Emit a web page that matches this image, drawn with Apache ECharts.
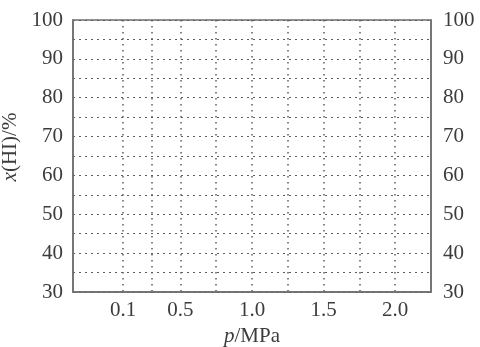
<!DOCTYPE html>
<html>
<head>
<meta charset="utf-8">
<script src="https://cdn.jsdelivr.net/npm/echarts@6/dist/echarts.min.js"></script>
<style>
  html, body { margin: 0; padding: 0; background: #fff; }
  #chart { width: 480px; height: 347px; }
</style>
</head>
<body>
<div id="chart"></div>
<script>
// pressure axis: grid lines and the labelled ticks
const xGridValues = [0.1, 0.3, 0.5, 0.75, 1.0, 1.25, 1.5, 1.75, 2.0]
const xLabelValues = [0.1, 0.5, 1.0, 1.5, 2.0]
const xRange = [-0.25, 2.25]
// x(HI) axis
const yRange = [30, 100]
const yGridStep = 5
const yLabelValues = [30, 40, 50, 60, 70, 80, 90, 100]

const font = 'Liberation Serif'
const fontSize = 21
const textColor = '#3c3c3c'
const frameColor = '#6e6e6e'

const chart = echarts.init(document.getElementById('chart'))

const yLabel = {
  customValues: yLabelValues,
  fontFamily: font,
  fontSize: fontSize,
  color: textColor,
}

chart.setOption({
  animation: false,
  grid: {
    left: 73,
    right: 49,
    top: 20,
    bottom: 55,
    outerBoundsMode: 'none',
    containLabel: false,
    show: true,
    borderColor: frameColor,
    borderWidth: 1.5,
  },
  xAxis: {
    type: 'value',
    min: xRange[0],
    max: xRange[1],
    name: '{i|p}/MPa',
    nameLocation: 'middle',
    nameGap: 33,
    nameTextStyle: {
      fontFamily: font,
      fontSize: fontSize,
      color: textColor,
      rich: {
        i: { fontFamily: font, fontSize: fontSize, fontStyle: 'italic', color: textColor },
      },
    },
    axisLine: { show: true, onZero: false, lineStyle: { color: frameColor, width: 1.5 } },
    axisTick: { show: false, customValues: xGridValues },
    axisLabel: {
      customValues: xLabelValues,
      formatter: (v) => v.toFixed(1),
      margin: 8,
      fontFamily: font,
      fontSize: fontSize,
      color: textColor,
    },
    splitLine: {
      show: true,
      lineStyle: { color: '#5e5e5e', width: 1.5, type: [1.5, 4.5] },
    },
  },
  yAxis: [
    {
      type: 'value',
      min: yRange[0],
      max: yRange[1],
      interval: yGridStep,
      name: '{i|x}(HI)/%',
      nameLocation: 'middle',
      nameGap: 47,
      nameTextStyle: {
        fontFamily: font,
        fontSize: fontSize,
        color: textColor,
        padding: [0, 0, 0, 18],
        rich: {
          i: { fontFamily: font, fontSize: fontSize, fontStyle: 'italic', color: textColor },
        },
      },
      axisLine: { show: true, onZero: false, lineStyle: { color: frameColor, width: 1.5 } },
      axisTick: { show: false },
      axisLabel: { ...yLabel, margin: 10 },
      splitLine: {
        show: true,
        lineStyle: { color: '#5e5e5e', width: 1.2, type: [2, 4] },
      },
    },
    {
      type: 'value',
      position: 'right',
      min: yRange[0],
      max: yRange[1],
      interval: yGridStep,
      axisLine: { show: true, onZero: false, lineStyle: { color: frameColor, width: 1.5 } },
      axisTick: { show: false },
      axisLabel: { ...yLabel, margin: 12 },
      splitLine: { show: false },
    },
  ],
  series: [],
})
</script>
</body>
</html>
